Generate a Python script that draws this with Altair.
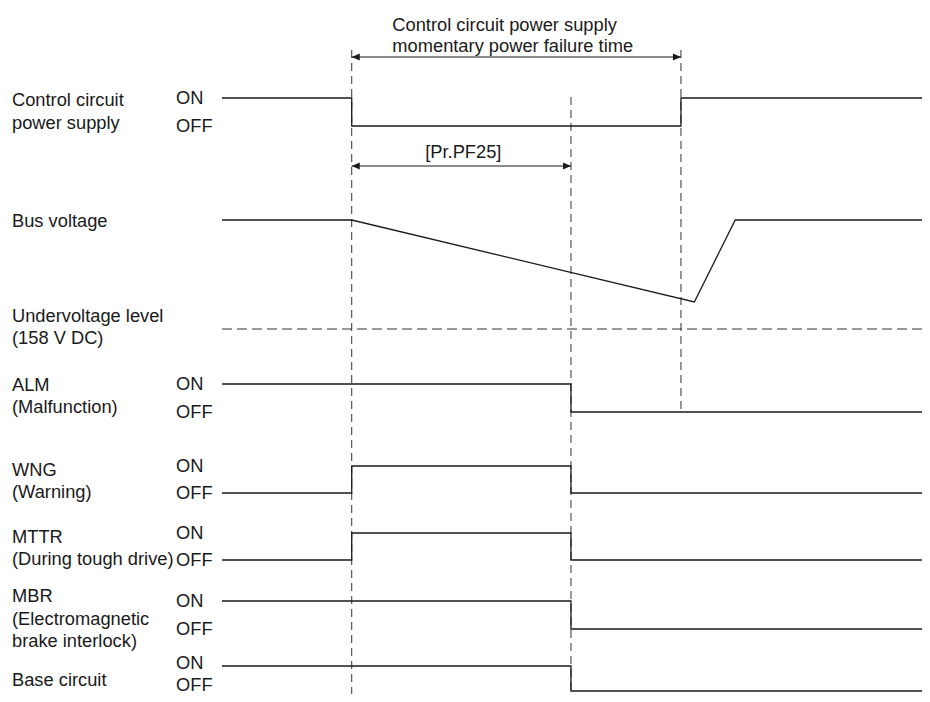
import altair as alt
import pandas as pd

# ---------------- data ----------------
# time axis (arbitrary units, 0 = left edge of the signal traces)
T_START = 0.0
T_FAIL = 18.4      # control circuit power lost
T_PF25 = 49.5      # [Pr.PF25] elapsed
T_RESTORE = 65.1   # control circuit power restored
T_BUS_MIN = 67.0   # bus voltage bottom
T_BUS_UP = 72.8    # bus voltage recovered
T_END = 100.0

signal_names = ["ctrl", "alm", "wng", "mttr", "mbr", "base"]
initial_states = ["ON", "ON", "OFF", "OFF", "ON", "ON"]
change_times = [
    [T_FAIL, T_RESTORE],
    [T_PF25],
    [T_FAIL, T_PF25],
    [T_FAIL, T_PF25],
    [T_PF25],
    [T_PF25],
]

# bus voltage (V DC)
bus_times = [T_START, T_FAIL, T_BUS_MIN, T_BUS_UP, T_END]
bus_volts = [283, 283, 189, 283, 283]
undervoltage_v = 158

label_lines = [
    "Control circuit", "power supply",
    "Bus voltage",
    "Undervoltage level", "(158 V DC)",
    "ALM", "(Malfunction)",
    "WNG", "(Warning)",
    "MTTR", "(During tough drive)",
    "MBR", "(Electromagnetic", "brake interlock)",
    "Base circuit",
]
top_lines = ["Control circuit power supply", "momentary power failure time"]
pf25_label = "[Pr.PF25]"

# ---------------- layout ----------------
M = 8
W, H = 914, 686
X0, PXT = 222, 7.05
FONT = "Liberation Sans"
FS = 18.3

lane_on = [98, 384, 466, 533, 601, 666]
lane_off = [126, 412, 493, 560, 629, 691]
onoff_text_y = [(98, 126), (384, 412), (466, 493), (533, 560), (601, 629), (663, 685)]
label_baselines = [106, 129, 227, 322, 344, 391, 413, 476, 498, 543, 565, 602, 625, 647, 686]
BUS_Y_NOM, BUS_Y_UV = 220, 329
top_baselines = [31, 52]
PF25_BASE = 158
ARROW1_Y, ARROW2_Y = 57, 166


def bus_y(v):
    return BUS_Y_NOM + (bus_volts[0] - v) * (BUS_Y_UV - BUS_Y_NOM) / (bus_volts[0] - undervoltage_v)


x_scale = alt.Scale(domain=[(M - X0) / PXT, (M + W - X0) / PXT], nice=False, zero=False)
y_scale = alt.Scale(domain=[M, M + H], reverse=True, nice=False, zero=False)

# signal traces
rows = []
for name, st, chg, on, off in zip(signal_names, initial_states, change_times, lane_on, lane_off):
    lvl = {"ON": on, "OFF": off}
    cur = st
    o = 0
    rows.append(dict(sig=name, t=T_START, y=lvl[cur], o=o)); o += 1
    for t in chg:
        rows.append(dict(sig=name, t=t, y=lvl[cur], o=o)); o += 1
        cur = "OFF" if cur == "ON" else "ON"
        rows.append(dict(sig=name, t=t, y=lvl[cur], o=o)); o += 1
    rows.append(dict(sig=name, t=T_END, y=lvl[cur], o=o))
for i, (t, v) in enumerate(zip(bus_times, bus_volts)):
    rows.append(dict(sig="bus", t=t, y=bus_y(v), o=i))
traces = pd.DataFrame(rows)

X = lambda f: alt.X(f, type="quantitative", scale=x_scale, axis=None)
Y = lambda f: alt.Y(f, type="quantitative", scale=y_scale, axis=None)

lines = alt.Chart(traces).mark_line(color="#1a1a1a", strokeWidth=1.3, interpolate="linear").encode(
    x=X("t"), y=Y("y"), detail="sig:N", order="o:Q"
)

# vertical dashed guides
vdf = pd.DataFrame(dict(t=[T_FAIL, T_PF25, T_RESTORE], y1=[50, 97, 50], y2=[700, 700, 412]))
vrules = alt.Chart(vdf).mark_rule(color="#333333", strokeWidth=1, strokeDash=[8, 5]).encode(
    x=X("t"), y=Y("y1"), y2="y2:Q"
)

# undervoltage level
uvdf = pd.DataFrame(dict(t1=[T_START], t2=[T_END], y=[bus_y(undervoltage_v)]))
uvrule = alt.Chart(uvdf).mark_rule(color="#333333", strokeWidth=1, strokeDash=[10, 5]).encode(
    x=X("t1"), x2="t2:Q", y=Y("y")
)

# dimension arrows
adf = pd.DataFrame(dict(t1=[T_FAIL, T_FAIL], t2=[T_RESTORE, T_PF25], y=[ARROW1_Y, ARROW2_Y]))
arrow_lines = alt.Chart(adf).mark_rule(color="#1a1a1a", strokeWidth=1.2).encode(
    x=X("t1"), x2="t2:Q", y=Y("y")
)
heads_l = alt.Chart(adf).mark_point(
    shape="M0,0 L2,-0.85 L2,0.85 Z", size=64, filled=True, color="#1a1a1a", opacity=1
).encode(x=X("t1"), y=Y("y"))
heads_r = alt.Chart(adf).mark_point(
    shape="M0,0 L-2,-0.85 L-2,0.85 Z", size=64, filled=True, color="#1a1a1a", opacity=1
).encode(x=X("t2"), y=Y("y"))

# text
ldf = pd.DataFrame(dict(text=label_lines, y=label_baselines))
labels = alt.Chart(ldf).mark_text(
    align="left", baseline="alphabetic", font=FONT, fontSize=FS, color="#1a1a1a"
).encode(x=alt.value(12 - M), y=Y("y"), text="text:N")

onoff_rows = []
for on_y, off_y in onoff_text_y:
    onoff_rows.append(dict(text="ON", y=on_y))
    onoff_rows.append(dict(text="OFF", y=off_y))
odf = pd.DataFrame(onoff_rows)
onoff = alt.Chart(odf).mark_text(
    align="left", baseline="middle", dy=1, font=FONT, fontSize=FS, color="#1a1a1a"
).encode(x=alt.value(176 - M), y=Y("y"), text="text:N")

tdf = pd.DataFrame(dict(text=top_lines, y=top_baselines, t=[(T_FAIL + T_RESTORE) / 2] * 2))
top_text = alt.Chart(tdf).mark_text(
    align="left", baseline="alphabetic", dx=-124, font=FONT, fontSize=FS, color="#1a1a1a"
).encode(x=X("t"), y=Y("y"), text="text:N")

pdf = pd.DataFrame(dict(text=[pf25_label], y=[PF25_BASE], t=[(T_FAIL + T_PF25) / 2]))
pf_text = alt.Chart(pdf).mark_text(
    align="center", baseline="alphabetic", dx=2, font=FONT, fontSize=FS, color="#1a1a1a"
).encode(x=X("t"), y=Y("y"), text="text:N")

chart = alt.layer(
    vrules, uvrule, lines, arrow_lines, heads_l, heads_r, labels, onoff, top_text, pf_text
).properties(
    width=W, height=H, padding=0, autosize=alt.AutoSizeParams(type="none"), background="white"
).configure_view(stroke=None)

chart.save("out.html", embed_options={"renderer": "svg", "actions": False})
